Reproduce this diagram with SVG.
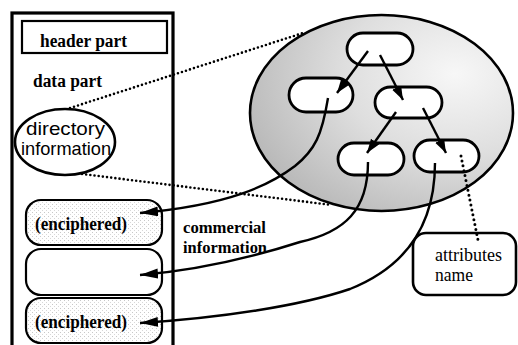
<svg xmlns="http://www.w3.org/2000/svg" width="518" height="345" viewBox="0 0 518 345">
<style>
.bs{font-family:"Liberation Serif","Times New Roman",serif;font-weight:bold;font-size:18.5px;fill:#000}
.rs{font-family:"Liberation Serif","Times New Roman",serif;font-size:18.5px;fill:#000}
.ss{font-family:"Liberation Sans",Arial,sans-serif;font-size:18.5px;fill:#000}
.box{fill:#fff;stroke:#000;stroke-width:2.2}
.pill{fill:#fff;stroke:#000;stroke-width:2.8}
.con{fill:none;stroke:#000;stroke-width:2.4}
.dot{fill:none;stroke:#000;stroke-width:2.6;stroke-linecap:round;stroke-dasharray:0 4.2}
</style>
<defs>
<radialGradient id="shade" cx="0.78" cy="0.3" r="0.85">
<stop offset="0" stop-color="#f7f7f7"/>
<stop offset="0.5" stop-color="#dedede"/>
<stop offset="1" stop-color="#b8b8b8"/>
</radialGradient>
<pattern id="stip" width="4" height="4" patternUnits="userSpaceOnUse">
<rect width="4" height="4" fill="#fff"/>
<rect x="0" y="0" width="1" height="1" fill="#c8c8c8"/>
<rect x="2" y="2" width="1" height="1" fill="#d8d8d8"/>
</pattern>
<marker id="big" markerUnits="userSpaceOnUse" markerWidth="20" markerHeight="12" refX="18" refY="5" orient="auto">
<path d="M0,0 L18,5 L0,10 z" fill="#000"/>
</marker>
<marker id="small" markerUnits="userSpaceOnUse" markerWidth="16" markerHeight="12" refX="14" refY="5" orient="auto">
<path d="M0,0 L14,5 L0,10 z" fill="#000"/>
</marker>
</defs>
<rect width="518" height="345" fill="#fff"/>

<g id="outer-box">
<rect x="12" y="13" width="161" height="345" fill="#fff" stroke="#000" stroke-width="3.2"/>
</g>
<g id="header-part">
<rect x="22" y="21" width="145" height="32" fill="#fff" stroke="#000" stroke-width="2.2"/>
<text class="bs" x="40" y="47" textLength="87" lengthAdjust="spacingAndGlyphs">header part</text>
</g>
<g id="data-part">
<text class="bs" x="33" y="87" textLength="69" lengthAdjust="spacingAndGlyphs">data part</text>
</g>
<g id="directory-information">
<ellipse cx="65" cy="142" rx="50" ry="33" fill="#fff" stroke="#000" stroke-width="2.6"/>
<text class="ss" x="26" y="135" textLength="79" lengthAdjust="spacingAndGlyphs">directory</text>
<text class="ss" x="21" y="155" textLength="90" lengthAdjust="spacingAndGlyphs">information</text>
</g>
<g id="enciphered-1">
<rect class="box" x="26" y="200" width="136" height="45" rx="15" style="fill:url(#stip)"/>
<text class="bs" x="35" y="230" textLength="92" lengthAdjust="spacingAndGlyphs">(enciphered)</text>
</g>
<g id="empty-block">
<rect class="box" x="26" y="249" width="136" height="46" rx="15"/>
</g>
<g id="enciphered-2">
<rect class="box" x="26" y="298" width="136" height="45" rx="15" style="fill:url(#stip)"/>
<text class="bs" x="35" y="328" textLength="92" lengthAdjust="spacingAndGlyphs">(enciphered)</text>
</g>
<g id="commercial-information">
<text class="bs" x="183" y="233" textLength="83" lengthAdjust="spacingAndGlyphs" style="font-size:16.5px">commercial</text>
<text class="bs" x="183" y="253" textLength="84" lengthAdjust="spacingAndGlyphs" style="font-size:16.5px">information</text>
</g>

<g id="directory-tree">
<ellipse cx="381.5" cy="113" rx="131.5" ry="98" fill="url(#shade)" stroke="#000" stroke-width="2.6"/>
</g>
<g id="node-top"><rect class="pill" x="347" y="33" width="66" height="32" rx="16"/></g>
<g id="node-left"><rect class="pill" x="289" y="78" width="64" height="34" rx="17"/></g>
<g id="node-middle"><rect class="pill" x="375" y="87" width="67" height="31" rx="15.5"/></g>
<g id="node-bottom-left"><rect class="pill" x="338" y="143" width="66" height="32" rx="16"/></g>
<g id="node-bottom-right"><rect class="pill" x="414" y="140" width="65" height="32" rx="16"/></g>

<g id="attributes-name">
<rect x="413" y="233" width="103" height="62" rx="13" fill="#fff" stroke="#000" stroke-width="2.6"/>
<text class="rs" x="435" y="261" textLength="67" lengthAdjust="spacingAndGlyphs">attributes</text>
<text class="rs" x="435" y="281" textLength="38" lengthAdjust="spacingAndGlyphs">name</text>
</g>

<g id="connectors">
<path class="dot" d="M70,108 L303,33"/>
<path class="dot" d="M82,174 L332,205"/>
<path class="dot" d="M461,156 L478,240" style="stroke-width:3;stroke-dasharray:0 5"/>
<path class="con" d="M368,51 L337,93" marker-end="url(#small)"/>
<path class="con" d="M380,55 L403,100" marker-end="url(#small)"/>
<path class="con" d="M396,112 L367,153" marker-end="url(#small)"/>
<path class="con" d="M423,108 L446,153" marker-end="url(#small)"/>
<path class="con" d="M328,98 C322,135 315,150 295,166 C270,185 230,205 140,213" marker-end="url(#big)"/>
<path class="con" d="M368,162 C368,210 345,232 300,242 C250,258 200,270 140,275" marker-end="url(#big)"/>
<path class="con" d="M435,163 C435,220 410,265 350,289 C300,306 220,318 140,323" marker-end="url(#big)"/>
</g>
</svg>
